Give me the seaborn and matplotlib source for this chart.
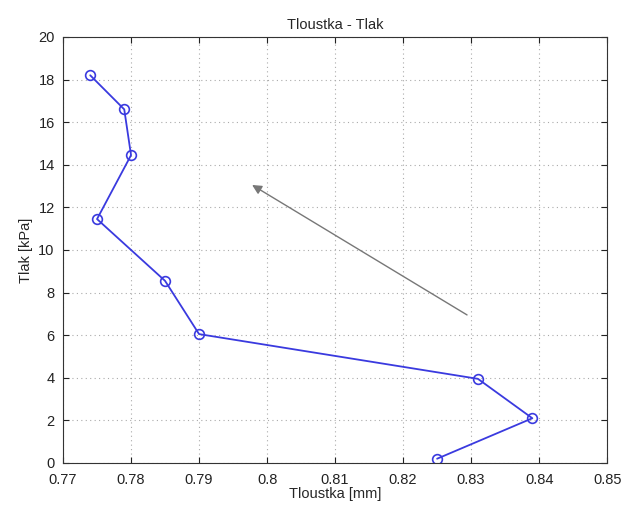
import matplotlib
matplotlib.use("Agg")
import matplotlib.pyplot as plt
import seaborn as sns
import pandas as pd

tloustka = [0.825, 0.839, 0.831, 0.790, 0.785, 0.775, 0.780, 0.779, 0.774]
tlak = [0.2, 2.1, 3.95, 6.05, 8.55, 11.45, 14.45, 16.6, 18.2]
x_ticks = [0.77, 0.78, 0.79, 0.8, 0.81, 0.82, 0.83, 0.84, 0.85]
x_labels = ["0.77", "0.78", "0.79", "0.8", "0.81", "0.82", "0.83", "0.84", "0.85"]
y_ticks = [0, 2, 4, 6, 8, 10, 12, 14, 16, 18, 20]
arrow_tail = (0.8294, 6.95)
arrow_head = (0.7978, 13.05)

sns.set_style("white")
plt.rcParams['font.family'] = ['Liberation Sans', 'DejaVu Sans']

df = pd.DataFrame({"Tloustka": tloustka, "Tlak": tlak})

fig = plt.figure(figsize=(6.24, 5.13), dpi=100)
ax = fig.add_axes([0.101, 0.0975, 0.872, 0.8305])
sns.lineplot(data=df, x="Tloustka", y="Tlak", sort=False, ax=ax,
             color="#3a3adf", linewidth=1.3, marker="o", markersize=7,
             markerfacecolor="none", markeredgecolor="#3a3adf", markeredgewidth=1.2)

ax.annotate("", xy=arrow_head, xytext=arrow_tail,
            arrowprops=dict(arrowstyle="-|>", color="#777777", lw=1.0,
                            mutation_scale=14, shrinkA=0, shrinkB=0))

ax.set_xlim(0.77, 0.85)
ax.set_ylim(0, 20)
ax.set_xticks(x_ticks)
ax.set_xticklabels(x_labels)
ax.set_yticks(y_ticks)
ax.grid(True, linestyle=(0, (1, 3)), color="#aaaaaa", linewidth=0.8)
ax.tick_params(direction="in", length=4, labelsize=10.5, colors="#222222",
               top=True, right=True, bottom=True, left=True,
               labeltop=False, labelright=False)
ax.tick_params(axis="x", pad=7)
ax.tick_params(axis="y", pad=6)
for s in ax.spines.values():
    s.set_color("#333333")
    s.set_linewidth(0.8)
ax.set_xlabel("Tloustka [mm]", fontsize=10.5, labelpad=0)
ax.set_ylabel("Tlak [kPa]", fontsize=10.5, labelpad=4)
ax.set_title("Tloustka - Tlak", fontsize=10.5, pad=6)

fig.savefig("out.png", dpi=100)
